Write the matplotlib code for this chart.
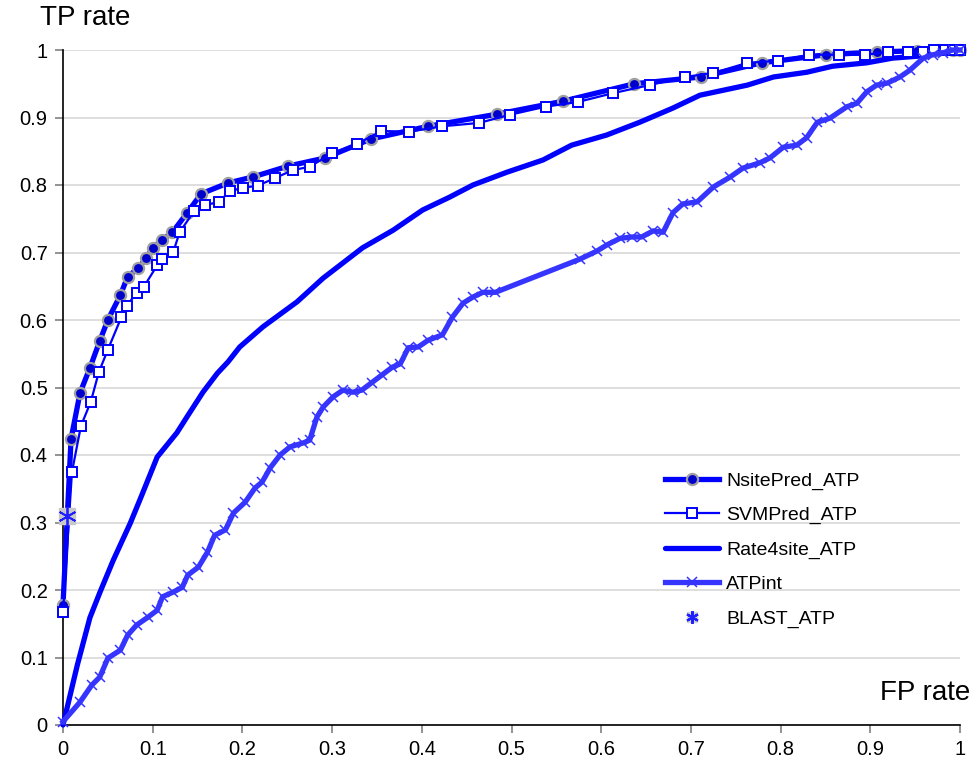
import matplotlib
matplotlib.use("Agg")
import matplotlib.pyplot as plt
from matplotlib.legend_handler import HandlerTuple
from matplotlib.lines import Line2D

plt.rcParams['font.family'] = ['Liberation Sans', 'DejaVu Sans']

# ROC curves: false positive rate vs true positive rate
nsite_fp = [0.0, 0.009, 0.019, 0.030, 0.041, 0.050, 0.064, 0.072, 0.084, 0.093, 0.100,
            0.110, 0.122, 0.138, 0.154, 0.184, 0.212, 0.251, 0.292, 0.343, 0.407, 0.484,
            0.557, 0.637, 0.711, 0.779, 0.851, 0.907, 0.952, 0.975, 0.992, 1.0]
nsite_tp = [0.178, 0.424, 0.492, 0.529, 0.569, 0.600, 0.637, 0.664, 0.677, 0.692, 0.707,
            0.718, 0.730, 0.758, 0.787, 0.803, 0.812, 0.828, 0.840, 0.868, 0.887, 0.905,
            0.924, 0.950, 0.960, 0.981, 0.993, 0.997, 0.999, 1.0, 1.0, 1.0]

svm_fp = [0.000, 0.010, 0.020, 0.031, 0.040, 0.050, 0.065, 0.071, 0.082, 0.090, 0.105,
          0.110, 0.123, 0.130, 0.146, 0.158, 0.174, 0.186, 0.201, 0.217, 0.236, 0.256,
          0.275, 0.300, 0.328, 0.355, 0.386, 0.423, 0.464, 0.498, 0.538, 0.574, 0.613,
          0.654, 0.693, 0.725, 0.763, 0.797, 0.832, 0.865, 0.894, 0.920, 0.942, 0.959,
          0.971, 0.983, 0.992, 1.0]
svm_tp = [0.167, 0.375, 0.443, 0.479, 0.523, 0.556, 0.604, 0.621, 0.640, 0.649, 0.681,
          0.690, 0.701, 0.730, 0.761, 0.770, 0.775, 0.791, 0.796, 0.799, 0.810, 0.822,
          0.827, 0.847, 0.861, 0.880, 0.879, 0.887, 0.892, 0.904, 0.916, 0.923, 0.936,
          0.948, 0.960, 0.966, 0.981, 0.984, 0.993, 0.993, 0.993, 0.997, 0.997, 0.997,
          1.0, 1.0, 1.0, 1.0]

rate_fp = [0.000, 0.016, 0.030, 0.041, 0.056, 0.075, 0.088, 0.105, 0.127, 0.138, 0.156,
           0.172, 0.184, 0.197, 0.223, 0.261, 0.290, 0.334, 0.368, 0.401, 0.431, 0.457,
           0.495, 0.535, 0.567, 0.606, 0.643, 0.680, 0.710, 0.763, 0.792, 0.829, 0.858,
           0.896, 0.925, 0.955, 1.0]
rate_tp = [0.000, 0.089, 0.159, 0.196, 0.244, 0.299, 0.341, 0.397, 0.433, 0.456, 0.493,
           0.521, 0.538, 0.560, 0.590, 0.627, 0.662, 0.707, 0.733, 0.763, 0.782, 0.800,
           0.819, 0.837, 0.859, 0.874, 0.893, 0.914, 0.933, 0.948, 0.960, 0.967, 0.976,
           0.981, 0.988, 0.991, 1.0]

atp_fp = [0.000, 0.019, 0.032, 0.041, 0.050, 0.064, 0.072, 0.082, 0.095, 0.105, 0.111,
          0.123, 0.133, 0.139, 0.151, 0.161, 0.169, 0.181, 0.190, 0.203, 0.214, 0.222,
          0.231, 0.242, 0.253, 0.268, 0.275, 0.283, 0.290, 0.301, 0.312, 0.323, 0.333,
          0.344, 0.356, 0.367, 0.376, 0.385, 0.396, 0.407, 0.423, 0.434, 0.446, 0.457,
          0.468, 0.482, 0.576, 0.595, 0.606, 0.621, 0.634, 0.645, 0.658, 0.669, 0.680,
          0.691, 0.707, 0.725, 0.744, 0.758, 0.777, 0.788, 0.803, 0.818, 0.829, 0.841,
          0.855, 0.874, 0.885, 0.896, 0.907, 0.919, 0.933, 0.944, 0.959, 0.970, 0.981,
          0.992, 1.0]
atp_tp = [0.005, 0.034, 0.059, 0.071, 0.099, 0.111, 0.133, 0.148, 0.160, 0.170, 0.190,
          0.197, 0.204, 0.222, 0.234, 0.256, 0.281, 0.289, 0.314, 0.330, 0.351, 0.360,
          0.381, 0.400, 0.412, 0.418, 0.422, 0.456, 0.471, 0.486, 0.496, 0.493, 0.496,
          0.507, 0.519, 0.530, 0.535, 0.559, 0.560, 0.570, 0.578, 0.604, 0.625, 0.634,
          0.641, 0.641, 0.690, 0.702, 0.711, 0.721, 0.723, 0.723, 0.732, 0.730, 0.759,
          0.772, 0.775, 0.797, 0.812, 0.825, 0.833, 0.840, 0.856, 0.859, 0.870, 0.893,
          0.899, 0.916, 0.921, 0.938, 0.948, 0.951, 0.960, 0.970, 0.988, 0.993, 0.996,
          1.0, 1.0]

blast_fp = [0.005]
blast_tp = [0.31]

labels = ['NsitePred_ATP', 'SVMPred_ATP', 'Rate4site_ATP', 'ATPint', 'BLAST_ATP']
y_ticks = [0, 0.1, 0.2, 0.3, 0.4, 0.5, 0.6, 0.7, 0.8, 0.9, 1]
x_ticks = [0, 0.1, 0.2, 0.3, 0.4, 0.5, 0.6, 0.7, 0.8, 0.9, 1]

fig = plt.figure(figsize=(9.77, 7.65), dpi=100)
ax = fig.add_axes([63 / 977, 1 - 725 / 765, 897 / 977, 675 / 765])

ax.set_xlim(0, 1)
ax.set_ylim(0, 1)
ax.set_yticks(y_ticks)
ax.set_xticks(x_ticks)
ax.set_yticklabels([f"{v:g}" for v in y_ticks])
ax.set_xticklabels([f"{v:g}" for v in x_ticks])
ax.yaxis.grid(True, color='#D4D4D4', linewidth=1.1)
ax.set_axisbelow(True)
for s in ('top', 'right'):
    ax.spines[s].set_visible(False)
for s in ('left', 'bottom'):
    ax.spines[s].set_color('black')
    ax.spines[s].set_linewidth(1.2)
ax.tick_params(axis='both', direction='out', length=6, width=1.2, color='#808080',
               labelsize=14.5, labelcolor='black', pad=5)

blue = '#0000FF'
l1, = ax.plot(nsite_fp, nsite_tp, color=blue, lw=3.8, marker='o', ms=8,
              markerfacecolor='#0000CC', markeredgecolor='#A0A0A0', markeredgewidth=1.6,
              clip_on=False, zorder=3)
l2, = ax.plot(svm_fp, svm_tp, color=blue, lw=1.6, marker='s', ms=6.5,
              markerfacecolor='white', markeredgecolor=blue, markeredgewidth=1.4,
              clip_on=False, zorder=4)
l3, = ax.plot(rate_fp, rate_tp, color=blue, lw=3.8, solid_capstyle='round',
              clip_on=False, zorder=3)
l4, = ax.plot(atp_fp, atp_tp, color='#3535FF', lw=3.8, marker='x', ms=7,
              markeredgewidth=1.1, markeredgecolor='#3535FF',
              clip_on=False, zorder=5)
b_bg, = ax.plot(blast_fp, blast_tp, linestyle='none', marker='s', ms=12,
                markerfacecolor='#C8C8C8', markeredgecolor='#C8C8C8', clip_on=False, zorder=6)
b_fg, = ax.plot(blast_fp, blast_tp, linestyle='none', marker=(6, 2, 0), ms=13,
                markeredgecolor='#2020FF', markeredgewidth=1.3, clip_on=False, zorder=7)

leg_bg = Line2D([], [], linestyle='none', marker='s', ms=7,
                markerfacecolor='#D4D4D4', markeredgecolor='#D4D4D4')
leg_fg = Line2D([], [], linestyle='none', marker=(6, 2, 0), ms=9,
                markeredgecolor='#2020FF', markeredgewidth=1.6)
leg = ax.legend([l1, l2, l3, l4, (leg_bg, leg_fg)], labels,
                handler_map={tuple: HandlerTuple(ndivide=1, pad=0)},
                loc='upper left', bbox_to_anchor=(665 / 977, 1 - 472 / 765),
                bbox_transform=fig.transFigure, frameon=False, fontsize=14,
                handlelength=2.8, handletextpad=0.35, labelspacing=0.86,
                borderaxespad=0, borderpad=0)

fig.text(40 / 977, 1 - 18 / 765, 'TP rate', fontsize=20, ha='left', va='center')
fig.text(970 / 977, 1 - 693 / 765, 'FP rate', fontsize=20, ha='right', va='center')

fig.savefig('out.png', dpi=100)
